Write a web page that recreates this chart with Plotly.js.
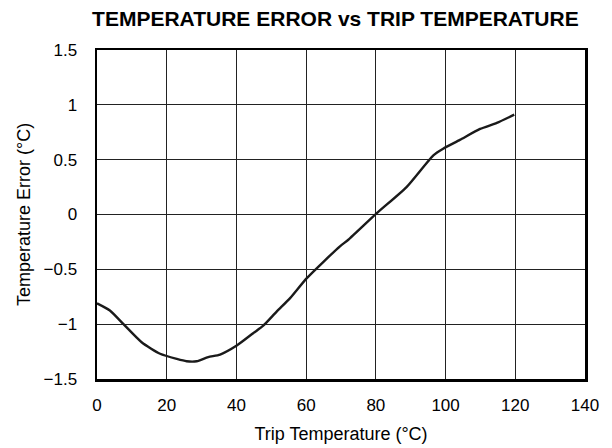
<!DOCTYPE html>
<html>
<head>
<meta charset="utf-8">
<script src="https://cdn.plot.ly/plotly-3.0.1.min.js"></script>
<style>html,body{margin:0;padding:0;background:#fff;}#chart{width:612px;height:448px;}</style>
</head>
<body>
<div id="chart"></div>
<script>
const tripTemp = [0, 3.7, 7.6, 12.8, 18.1, 22.9, 25.7, 28.6, 31.9, 35.3, 40.1, 44.9, 47.7, 51.6, 55.4, 60.2, 69.7, 72.1, 80.2, 88.8, 96.5, 99.3, 104.1, 109.9, 114.7, 119.7];
const tempError = [-0.81, -0.875, -1.0, -1.165, -1.27, -1.317, -1.338, -1.338, -1.30, -1.277, -1.195, -1.08, -1.014, -0.883, -0.762, -0.58, -0.29, -0.23, 0.01, 0.25, 0.54, 0.60, 0.68, 0.78, 0.835, 0.91];
const xTicks = [0, 20, 40, 60, 80, 100, 120, 140];
const yTicks = [-1.5, -1, -0.5, 0, 0.5, 1, 1.5];

const font = 'Liberation Sans, Arial, sans-serif';
Plotly.newPlot('chart', [{
  x: tripTemp, y: tempError, type: 'scatter', mode: 'lines',
  line: {color: '#1a1a1a', width: 2.4, shape: 'spline', smoothing: 0.6},
  hoverinfo: 'skip'
}], {
  width: 612, height: 448,
  margin: {l: 97, r: 27, t: 50, b: 69},
  paper_bgcolor: '#fff', plot_bgcolor: '#fff',
  showlegend: false,
  title: {text: '<b>TEMPERATURE ERROR vs TRIP TEMPERATURE</b>', font: {family: font, size: 21, color: '#000'}, x: 0.548, xanchor: 'center', y: 0.958, yanchor: 'middle'},
  xaxis: {
    range: [0, 140], tickvals: xTicks, ticktext: xTicks.map(String),
    showgrid: true, gridcolor: '#222', gridwidth: 1, zeroline: false,
    showline: true, linecolor: '#000', linewidth: 2.5, mirror: true,
    ticks: '', ticklabelstandoff: 9, tickfont: {family: font, size: 17, color: '#000'},
    title: {text: 'Trip Temperature (°C)', font: {family: font, size: 18, color: '#000'}, standoff: 14}
  },
  yaxis: {
    range: [-1.5, 1.5], tickvals: yTicks,
    showgrid: true, gridcolor: '#222', gridwidth: 1, zeroline: false,
    showline: true, linecolor: '#000', linewidth: 2.5, mirror: true,
    ticks: '', ticklabelstandoff: 14, tickfont: {family: font, size: 17, color: '#000'},
    title: {text: 'Temperature Error (°C)', font: {family: font, size: 18, color: '#000'}, standoff: 8}
  }
}, {staticPlot: true});
</script>
</body>
</html>
